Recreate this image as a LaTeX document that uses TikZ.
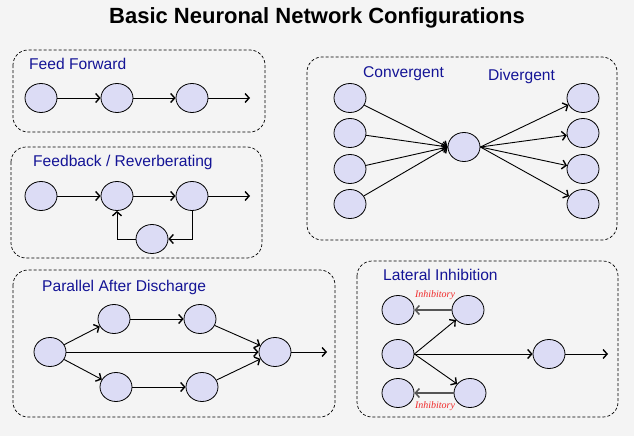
\documentclass[tikz,border=0pt]{standalone}
\usepackage{fontspec}
\setmainfont{Liberation Sans}
\newfontfamily\inhfont{Liberation Serif}
\usetikzlibrary{shapes.geometric,arrows.meta}
\definecolor{cellfill}{RGB}{220,220,245}
\definecolor{labblue}{RGB}{20,20,150}
\definecolor{inhred}{RGB}{240,40,40}
\definecolor{bggray}{RGB}{244,244,244}
\definecolor{inhgray}{RGB}{85,85,85}
\begin{document}
\begin{tikzpicture}[x=1pt,y=-1pt]
\tikzstyle{group}=[draw,line width=0.7pt,dash pattern=on 3pt off 2pt,rounded corners=15pt];
\tikzstyle{neuron}=[ellipse,draw,line width=0.8pt,fill=cellfill,minimum width=32pt,minimum height=29pt,inner sep=0pt];
\tikzstyle{head}=[anchor=west,font=\fontsize{15.6}{18}\selectfont,text=labblue,inner sep=0pt];
\tikzstyle{syn}=[-{Straight Barb[length=4pt,width=9pt,line width=1.4pt]},line width=0.9pt];
\tikzstyle{inh}=[-{Straight Barb[length=4pt,width=9pt,line width=1.5pt]},line width=2pt,draw=inhgray];
\tikzstyle{inhtext}=[font=\inhfont\itshape\fontsize{10}{12}\selectfont,text=inhred,inner sep=0pt];
\useasboundingbox[fill=bggray] (0,0) rectangle (634,436);
\node [font=\bfseries\fontsize{22}{26}\selectfont] (title) at (317,18) {Basic Neuronal Network Configurations};

% feed forward
\draw [group] (13,50) rectangle (265,132);
\node [head] (ffl) at (29,64) {Feed Forward};
\node [neuron] (f1) at (41,98) {};
\node [neuron] (f2) at (117,98) {};
\node [neuron] (f3) at (192,98) {};
\coordinate (fout) at (250,98);
\draw [syn] (f1) edge (f2);
\draw [syn] (f2) edge (f3);
\draw [syn] (f3) edge (fout);

% feedback
\draw [group] (11,147) rectangle (262,258);
\node [head] (fbl) at (33,162) {Feedback / Reverberating};
\node [neuron] (b1) at (41,196) {};
\node [neuron] (b2) at (117,196) {};
\node [neuron] (b3) at (192,196) {};
\node [neuron] (b4) at (152,239) {};
\coordinate (bout) at (250,196);
\draw [syn] (b1) edge (b2);
\draw [syn] (b2) edge (b3);
\draw [syn] (b3) edge (bout);
\draw [syn] (b3.south) |- (b4.east);
\draw [syn] (b4.west) -| (b2.south);

% convergent / divergent
\draw [group] (307,57) rectangle (617,240);
\node [head] (cvl) at (363,74) {Convergent};
\node [head] (dvl) at (488,76) {Divergent};
\node [neuron] (c0) at (464,147) {};
\foreach \i/\y in {1/98,2/133,3/169,4/204} {
  \node [neuron] (l\i) at (350,\y) {};
  \node [neuron] (r\i) at (583,\y) {};
  \draw [syn] (l\i) -- (c0.west);
  \draw [syn] (c0.east) -- (r\i);
}

% parallel after discharge
\draw [group] (13,270) rectangle (335,417);
\node [head] (pal) at (42,287) {Parallel After Discharge};
\node [neuron] (p1) at (50,352) {};
\node [neuron] (p2) at (114,319) {};
\node [neuron] (p3) at (200,319) {};
\node [neuron] (p4) at (116,387) {};
\node [neuron] (p5) at (202,387) {};
\node [neuron] (p6) at (275,352) {};
\coordinate (pout) at (327,352);
\draw [syn] (p1) edge (p2);
\draw [syn] (p2) edge (p3);
\draw [syn] (p3) edge (p6);
\draw [syn] (p1) edge (p4);
\draw [syn] (p4) edge (p5);
\draw [syn] (p5) edge (p6);
\draw [syn] (p1) edge (p6);
\draw [syn] (p6) edge (pout);

% lateral inhibition
\draw [group] (357,261) rectangle (618,417);
\node [head] (lil) at (383,275) {Lateral Inhibition};
\node [neuron] (i1) at (398,310) {};
\node [neuron] (i2) at (468,310) {};
\node [neuron] (i3) at (398,354) {};
\node [neuron] (i4) at (549,354) {};
\node [neuron] (i5) at (398,393) {};
\node [neuron] (i6) at (470,393) {};
\coordinate (iout) at (608,354);
\draw [syn] (i3.east) -- (i2);
\draw [syn] (i3.east) -- (i6);
\draw [syn] (i3) edge (i4);
\draw [syn] (i4) edge (iout);
\draw [inh] (i2) edge (i1);
\draw [inh] (i6) edge (i5);
\node [inhtext] (it1) at (435,295) {Inhibitory};
\node [inhtext] (it2) at (435,406) {Inhibitory};
\end{tikzpicture}
\end{document}
